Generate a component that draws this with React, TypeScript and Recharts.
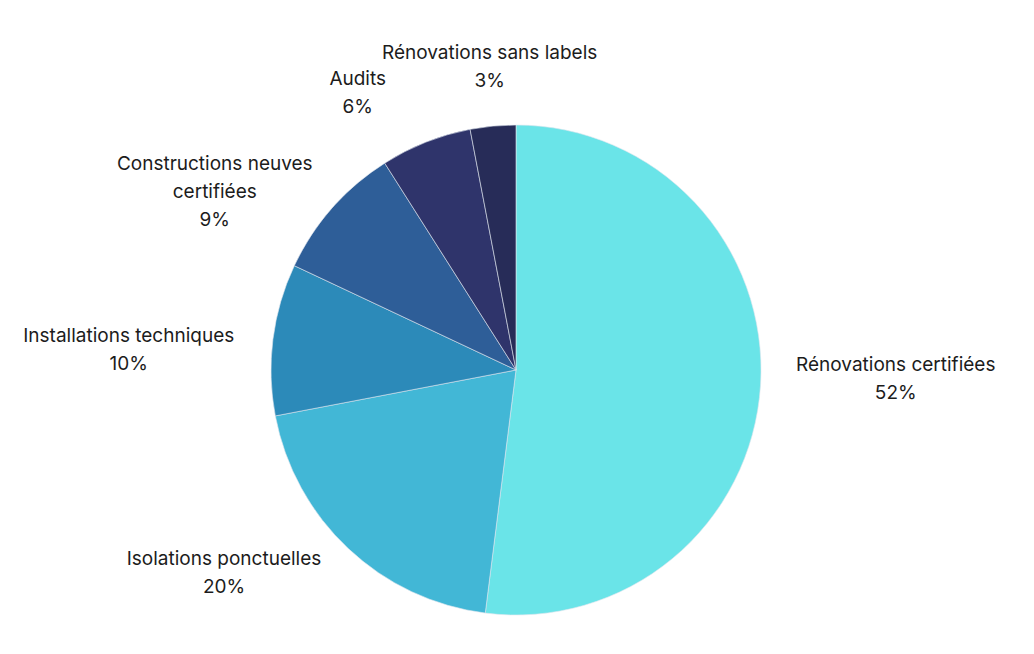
import { Cell, Pie, PieChart } from 'recharts';

const categories = [
    'Rénovations certifiées',
    'Isolations ponctuelles',
    'Installations techniques',
    'Constructions neuves certifiées',
    'Audits',
    'Rénovations sans labels',
];
const shares = [52, 20, 10, 9, 6, 3];
const colors = ['#6AE4E8', '#42B7D6', '#2C8AB9', '#2E5E98', '#2F346B', '#272C58'];

const data = categories.map((name, i) => ({ name, value: shares[i] }));

const RAD = Math.PI / 180;
const FONT_SIZE = 19;
const LINE_HEIGHT = 28;

// simple word wrap so the long names break like the original
function wrap(text: string, max = 24) {
    const lines: string[] = [];
    let current = '';
    for (const word of text.split(' ')) {
        const next = current ? current + ' ' + word : word;
        if (next.length > max && current) {
            lines.push(current);
            current = word;
        } else {
            current = next;
        }
    }
    if (current) lines.push(current);
    return lines;
}

function renderLabel(props: any) {
    const { cx, cy, midAngle, outerRadius, name, value } = props;
    const dx = Math.cos(-midAngle * RAD);
    const dy = Math.sin(-midAngle * RAD);
    const lines = [...wrap(name), value + '%'];
    // rough text width, lines are centred inside the block
    const w = Math.max(...lines.map((l) => l.length)) * FONT_SIZE * 0.48;
    let x: number;
    if (Math.abs(dx) >= 0.5) {
        x = cx + (outerRadius + 35) * dx + (Math.sign(dx) * w) / 2;
    } else if (Math.abs(dx) >= 0.2) {
        x = cx + (outerRadius + 185) * dx;
    } else {
        x = cx + (outerRadius + 35) * dx;
    }
    // labels near the top/bottom sit further out than those at the sides
    const y = cy + (outerRadius + 60) * Math.sign(dy) * Math.pow(Math.abs(dy), 1.3);
    const top = y - ((lines.length - 1) * LINE_HEIGHT) / 2;
    return (
        <g>
            {lines.map((line, i) => (
                <text
                    key={i}
                    x={x}
                    y={top + i * LINE_HEIGHT}
                    textAnchor="middle"
                    dominantBaseline="central"
                    fill="#1c1c1c"
                    fontSize={FONT_SIZE}
                    fontFamily="Inter, sans-serif"
                >
                    {line}
                </text>
            ))}
        </g>
    );
}

export default function App() {
    return (
        <PieChart width={1018} height={646} margin={{ top: 0, right: 0, bottom: 0, left: 0 }}>
            <Pie
                data={data}
                dataKey="value"
                nameKey="name"
                cx={508}
                cy={362}
                outerRadius={245}
                startAngle={90}
                endAngle={-270}
                stroke="#dfe6ee"
                strokeWidth={0.6}
                label={renderLabel}
                labelLine={false}
                isAnimationActive={false}
            >
                {data.map((d, i) => (
                    <Cell key={d.name} fill={colors[i]} />
                ))}
            </Pie>
        </PieChart>
    );
}
